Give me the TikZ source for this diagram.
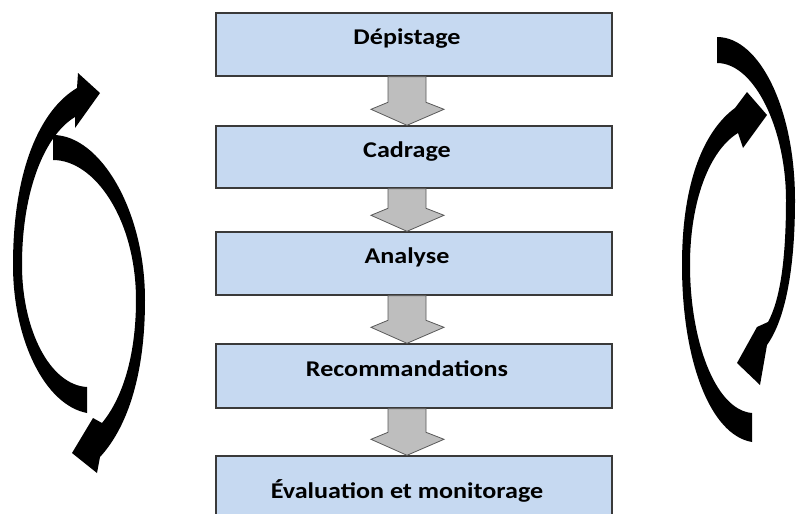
\documentclass[tikz,border=0pt]{standalone}
\usepackage{fontspec}
\setmainfont{Carlito}
\newfontfamily\stagefont[FakeStretch=1.16]{Carlito}
\usepackage{tikz}
\usetikzlibrary{calc}

\definecolor{stageblue}{HTML}{C6D9F1}
\definecolor{stageline}{HTML}{3A3A3A}
\definecolor{flowgray}{HTML}{BEBEBE}
\definecolor{flowline}{HTML}{595959}

\begin{document}
\begin{tikzpicture}[x=1pt,y=-1pt,
    stage/.style={draw=stageline, line width=1.4pt, fill=stageblue, minimum width=396pt, inner sep=0pt},
    stagetext/.style={font=\stagefont\bfseries\fontsize{22.5}{26}\selectfont, text=black, inner sep=0pt},
    flowarrow/.style={draw=flowline, line width=0.8pt, fill=flowgray, line join=miter},
    curl/.style={fill=black}]
    \clip (0,0) rectangle (796,514);
    \fill[white] (0,0) rectangle (796,514);

    % steps of the process
    \foreach \n/\y/\h/\t in {1/44.5/63/Dépistage, 2/157/62/Cadrage, 3/263.5/63/Analyse,
        4/376/64/Recommandations, 5/498/84/Évaluation et monitorage}{
        \node[stage, minimum height=\h pt] (s\n) at (414,\y) {};
        \node[stagetext, anchor=base] (t\n) at ([xshift=-7pt]s\n.center) {\t};
    }

    % block arrows between the steps
    \foreach \a/\b in {1/2,2/3,3/4,4/5}
        \draw[flowarrow] ([xshift=-26pt]s\a.south) -- ($(s\b.north)+(-26,-23)$)
            -- ($(s\b.north)+(-43,-16)$) -- ([xshift=-7pt]s\b.north)
            -- ($(s\b.north)+(30,-16)$) -- ($(s\b.north)+(12,-23)$)
            -- ([xshift=12pt]s\a.south) -- cycle;

    % left loop: up on the outside, down on the inside
    \fill[curl] (87,413) .. controls (45,405) and (13,340) .. (13,265)
        .. controls (13,170) and (40,110) .. (77,88)
        -- (78,73) -- (100,93) -- (75,128) -- (75,117)
        .. controls (45,135) and (22,190) .. (22,265)
        .. controls (22,330) and (50,385) .. (87,387) -- cycle;
    \fill[curl] (53,135) .. controls (100,135) and (145,210) .. (145,300)
        .. controls (145,380) and (125,430) .. (100,457)
        -- (97,473) -- (72,453) -- (93,418) -- (102,423)
        .. controls (125,395) and (136,350) .. (136,300)
        .. controls (136,220) and (95,160) .. (53,160) -- cycle;

    % right loop
    \fill[curl] (717,37) .. controls (760,37) and (795,110) .. (795,200)
        .. controls (795,270) and (785,320) .. (767,345)
        -- (760,385) -- (737,363) -- (757,327) -- (768,322)
        .. controls (780,300) and (786,260) .. (786,200)
        .. controls (786,130) and (755,63) .. (717,63) -- cycle;
    \fill[curl] (752,442) .. controls (710,435) and (682,360) .. (682,265)
        .. controls (682,180) and (705,130) .. (735,108)
        -- (747,92) -- (767,115) -- (743,148) -- (738,133)
        .. controls (710,150) and (690,200) .. (690,265)
        .. controls (690,340) and (715,410) .. (752,413) -- cycle;
\end{tikzpicture}
\end{document}
